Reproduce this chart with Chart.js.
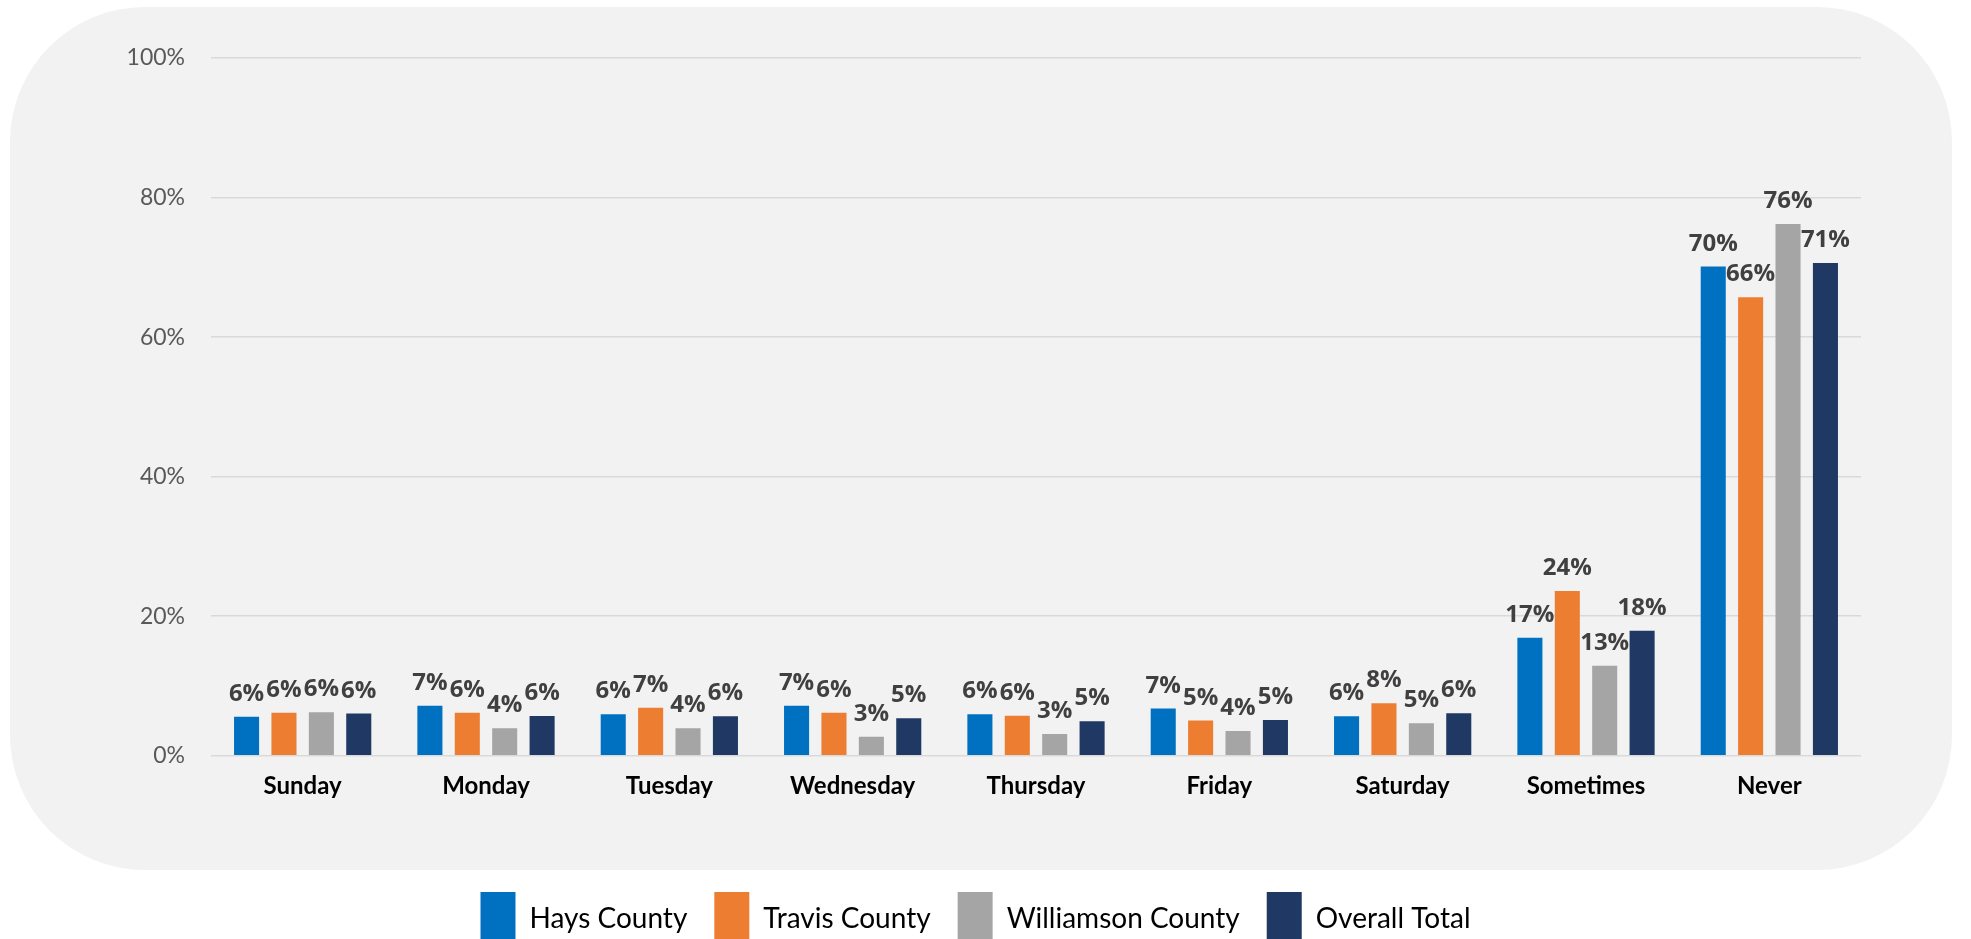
<!DOCTYPE html>
<html>
<head>
<meta charset="utf-8">
<script src="https://cdn.jsdelivr.net/npm/chart.js@4.4.1/dist/chart.umd.min.js"></script>
<style>
html,body{margin:0;padding:0;background:#ffffff;overflow:hidden;width:1971px;height:939px}
#wrap{position:relative;width:1971px;height:955px}
</style>
</head>
<body>
<div id="wrap"><canvas id="c"></canvas></div>
<script>
const categories = ['Sunday','Monday','Tuesday','Wednesday','Thursday','Friday','Saturday','Sometimes','Never'];
const seriesNames = ['Hays County','Travis County','Williamson County','Overall Total'];
const haysCounty       = [5.6, 7.15, 5.95, 7.15, 5.95, 6.76, 5.66, 16.9, 70.1];
const travisCounty     = [6.14, 6.14, 6.86, 6.14, 5.71, 5.04, 7.53, 23.6, 65.7];
const williamsonCounty = [6.23, 3.93, 3.93, 2.73, 3.12, 3.55, 4.65, 12.9, 76.2];
const overallTotal     = [6.04, 5.7, 5.66, 5.37, 4.94, 5.13, 6.09, 17.9, 70.6];
const yTicks = [0, 20, 40, 60, 80, 100];
const seriesColors = ['#0070C0', '#ED7D31', '#A5A5A5', '#203864'];

const seriesValues = [haysCounty, travisCounty, williamsonCounty, overallTotal];

const bgPlugin = {
  id: 'bgPanel',
  beforeDraw(chart) {
    const ctx = chart.ctx;
    ctx.save();
    ctx.fillStyle = '#F2F2F2';
    ctx.beginPath();
    ctx.roundRect(10, 7, 1942, 863, 135);
    ctx.fill();
    ctx.restore();
  }
};

const valueLabelPlugin = {
  id: 'valueLabels',
  afterDatasetsDraw(chart) {
    const ctx = chart.ctx;
    ctx.save();
    ctx.font = 'bold 24px "Open Sans"';
    ctx.fillStyle = '#404040';
    ctx.textAlign = 'center';
    ctx.textBaseline = 'alphabetic';
    chart.data.datasets.forEach((ds, di) => {
      const meta = chart.getDatasetMeta(di);
      meta.data.forEach((el, i) => {
        const v = ds.data[i];
        ctx.fillText(Math.round(v) + '%', el.x, el.y - 16);
      });
    });
    ctx.restore();
  }
};

new Chart(document.getElementById('c'), {
  type: 'bar',
  data: {
    labels: categories,
    datasets: seriesNames.map((name, i) => ({
      label: name,
      data: seriesValues[i],
      backgroundColor: seriesColors[i],
      borderWidth: 0,
      categoryPercentage: 0.816,
      barPercentage: 0.67
    }))
  },
  options: {
    responsive: true,
    maintainAspectRatio: false,
    animation: false,
    layout: { padding: { top: 58, left: 90, right: 110, bottom: 0 } },
    plugins: {
      tooltip: { enabled: false },
      legend: {
        position: 'bottom',
        labels: {
          boxWidth: 35,
          boxHeight: 53,
          padding: 27,
          color: '#000000',
          font: { family: 'Lato', size: 28 }
        }
      }
    },
    scales: {
      y: {
        min: 0,
        max: 100,
        afterBuildTicks(scale) { scale.ticks = yTicks.map(v => ({ value: v })); },
        afterFit(scale) { scale.width = 121; },
        ticks: {
          callback: v => v + '%',
          color: '#595959',
          font: { family: 'Lato', size: 23 },
          padding: 26
        },
        grid: { color: '#D9D9D9', lineWidth: 1.5, drawTicks: false },
        border: { display: false }
      },
      x: {
        afterFit(scale) { scale.height = 109.3; },
        ticks: {
          color: '#000000',
          font: { family: 'Lato', size: 24, weight: 'bold' },
          padding: 16,
          maxRotation: 0,
          autoSkip: false
        },
        grid: { display: false, drawTicks: false },
        border: { display: false }
      }
    }
  },
  plugins: [bgPlugin, valueLabelPlugin]
});
</script>
</body>
</html>
